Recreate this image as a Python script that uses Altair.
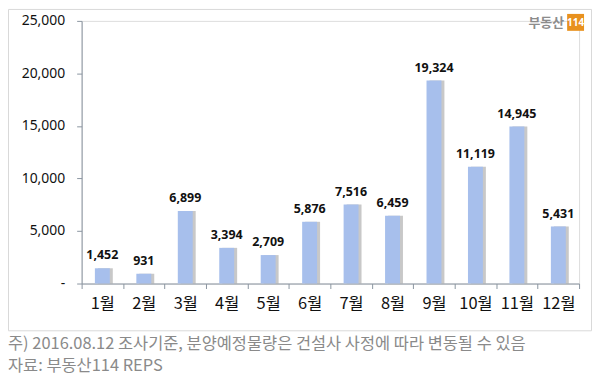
import altair as alt
import pandas as pd

months = ["1월", "2월", "3월", "4월", "5월", "6월", "7월", "8월", "9월", "10월", "11월", "12월"]
values = [1452, 931, 6899, 3394, 2709, 5876, 7516, 6459, 19324, 11119, 14945, 5431]
y_ticks = [0, 5000, 10000, 15000, 20000, 25000]
note_lines = ["주) 2016.08.12 조사기준, 분양예정물량은 건설사 사정에 따라 변동될 수 있음",
              "자료: 부동산114 REPS"]

df = pd.DataFrame({"month": months, "value": values})
W, H = 500, 264
FONT = "Noto Sans CJK KR"

x_enc = alt.X("month:N", sort=months, scale=alt.Scale(paddingInner=0, paddingOuter=0),
              axis=alt.Axis(title=None, tickBand="extent", tickSize=5, tickColor="#8a95a0",
                            domainColor="#8a95a0", labelFontSize=16.5, labelFont=FONT,
                            labelColor="#111", labelPadding=7, labelAngle=0))
y_enc = alt.Y("value:Q", scale=alt.Scale(domain=[0, 25000], nice=False),
              axis=alt.Axis(title=None, values=y_ticks, grid=False, tickSize=5,
                            tickColor="#8a95a0", domainColor="#8a95a0",
                            labelExpr="datum.value == 0 ? '-    ' : format(datum.value, ',')",
                            labelFontSize=14, labelFont="Noto Sans", labelColor="#111",
                            labelPadding=12))

base = alt.Chart(df)
bars = base.mark_bar(width=15, color="#A7BFEC").encode(x=x_enc, y=y_enc)
shadow = base.mark_bar(width=15, xOffset=3, color="#9a9a9a", opacity=0.55).encode(x=x_enc, y=y_enc)
labels = base.mark_text(baseline="bottom", dy=-6, fontSize=12.5, fontWeight="bold",
                        font="Noto Sans", color="#111").encode(
    x=x_enc, y=y_enc, text=alt.Text("value:Q", format=","))

one = alt.Chart(pd.DataFrame({"a": [0]}))
border = one.mark_rect(fillOpacity=0, stroke="#d9d9d9", strokeWidth=1).encode(
    x=alt.value(-73.5), x2=alt.value(512.5), y=alt.value(-11.5), y2=alt.value(311.5))
logo_text = one.mark_text(text="부동산", fontSize=13, fontWeight="bold", font=FONT,
                          color="#8c8c8c", align="right", baseline="middle").encode(
    x=alt.value(485), y=alt.value(2))
logo_box = one.mark_rect(color="#E8911E").encode(
    x=alt.value(488), x2=alt.value(505), y=alt.value(-7), y2=alt.value(10))
logo_num = one.mark_text(text="114", fontSize=10, fontWeight="bold", font="Noto Sans",
                         color="white", align="center", baseline="middle").encode(
    x=alt.value(496.5), y=alt.value(2))

note1 = one.mark_text(text=note_lines[0], align="left", baseline="middle", fontSize=16.5,
                      font=FONT, color="#8a8a8a").encode(x=alt.value(-74), y=alt.value(325))
note2 = one.mark_text(text=note_lines[1], align="left", baseline="middle", fontSize=16.5,
                      font=FONT, color="#8a8a8a").encode(x=alt.value(-74), y=alt.value(347))

chart = alt.layer(border, shadow, bars, labels, logo_text, logo_box, logo_num, note1, note2).properties(
    width=W, height=H,
    padding={"left": 74, "top": 12, "right": 13, "bottom": 92},
    autosize=alt.AutoSizeParams(type="none"),
).configure_view(stroke=None).configure(background="white")

chart.save("out.html", embed_options={"renderer": "svg", "actions": False})
